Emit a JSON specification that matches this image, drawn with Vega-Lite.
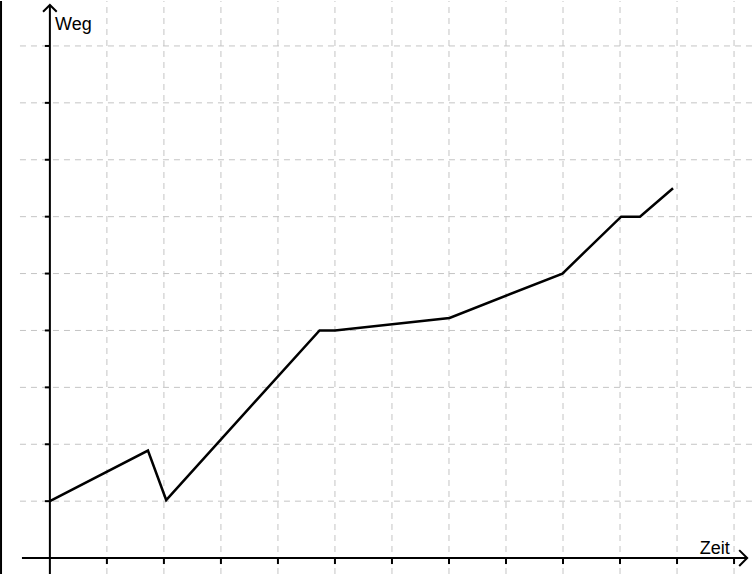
{
  "$schema": "https://vega.github.io/schema/vega-lite/v6.json",
  "autosize": {"type": "fit", "contains": "padding"},
  "width": 755,
  "height": 575,
  "padding": 0,
  "background": "white",
  "config": {"view": {"stroke": null}},
  "datasets": {
    "hgrid": [
      {"x": -0.525, "x2": 12.35, "y": 1},
      {"x": -0.525, "x2": 12.35, "y": 2},
      {"x": -0.525, "x2": 12.35, "y": 3},
      {"x": -0.525, "x2": 12.35, "y": 4},
      {"x": -0.525, "x2": 12.35, "y": 5},
      {"x": -0.525, "x2": 12.35, "y": 6},
      {"x": -0.525, "x2": 12.35, "y": 7},
      {"x": -0.525, "x2": 12.35, "y": 8},
      {"x": -0.525, "x2": 12.35, "y": 9}
    ],
    "vgrid": [
      {"x": 1, "y": -0.28, "y2": 9.79},
      {"x": 2, "y": -0.28, "y2": 9.79},
      {"x": 3, "y": -0.28, "y2": 9.79},
      {"x": 4, "y": -0.28, "y2": 9.79},
      {"x": 5, "y": -0.28, "y2": 9.79},
      {"x": 6, "y": -0.28, "y2": 9.79},
      {"x": 7, "y": -0.28, "y2": 9.79},
      {"x": 8, "y": -0.28, "y2": 9.79},
      {"x": 9, "y": -0.28, "y2": 9.79},
      {"x": 10, "y": -0.28, "y2": 9.79},
      {"x": 11, "y": -0.28, "y2": 9.79},
      {"x": 12, "y": -0.28, "y2": 9.79}
    ],
    "yticks": [
      {"x": -0.088, "x2": 0, "y": 1},
      {"x": -0.088, "x2": 0, "y": 2},
      {"x": -0.088, "x2": 0, "y": 3},
      {"x": -0.088, "x2": 0, "y": 4},
      {"x": -0.088, "x2": 0, "y": 5},
      {"x": -0.088, "x2": 0, "y": 6},
      {"x": -0.088, "x2": 0, "y": 7},
      {"x": -0.088, "x2": 0, "y": 8},
      {"x": -0.088, "x2": 0, "y": 9}
    ],
    "xticks": [
      {"x": 1, "y": -0.105, "y2": 0},
      {"x": 2, "y": -0.105, "y2": 0},
      {"x": 3, "y": -0.105, "y2": 0},
      {"x": 4, "y": -0.105, "y2": 0},
      {"x": 5, "y": -0.105, "y2": 0},
      {"x": 6, "y": -0.105, "y2": 0},
      {"x": 7, "y": -0.105, "y2": 0},
      {"x": 8, "y": -0.105, "y2": 0},
      {"x": 9, "y": -0.105, "y2": 0},
      {"x": 10, "y": -0.105, "y2": 0},
      {"x": 11, "y": -0.105, "y2": 0},
      {"x": 12, "y": -0.105, "y2": 0}
    ],
    "axes": [
      {"x": -0.49, "x2": 12.23, "y": 0, "y2": 0},
      {"x": 0, "x2": 0, "y": -0.28, "y2": 9.72},
      {"x": -0.857, "x2": -0.857, "y": -0.28, "y2": 9.79}
    ],
    "arrows": [
      {"a": "y", "o": 1, "x": -0.12, "y": 9.6},
      {"a": "y", "o": 2, "x": 0, "y": 9.72},
      {"a": "y", "o": 3, "x": 0.12, "y": 9.6},
      {"a": "x", "o": 1, "x": 12.09, "y": 0.14},
      {"a": "x", "o": 2, "x": 12.23, "y": 0},
      {"a": "x", "o": 3, "x": 12.09, "y": -0.14}
    ],
    "labels": [
      {"x": 0.09, "y": 9.28, "label": "Weg"},
      {"x": 11.4, "y": 0.07, "label": "Zeit"}
    ],
    "motion": [
      {"x": 0, "y": 1},
      {"x": 1.72, "y": 1.89},
      {"x": 2.04, "y": 1.02},
      {"x": 4.73, "y": 4},
      {"x": 5, "y": 4},
      {"x": 7.01, "y": 4.22},
      {"x": 8.99, "y": 5},
      {"x": 10.02, "y": 6},
      {"x": 10.35, "y": 6},
      {"x": 10.93, "y": 6.5}
    ]
  },
  "encoding": {
    "x": {"field": "x", "type": "quantitative", "scale": {"domain": [-0.875, 12.35], "nice": false, "zero": false}, "axis": null},
    "y": {"field": "y", "type": "quantitative", "scale": {"domain": [-0.28, 9.79], "nice": false, "zero": false}, "axis": null}
  },
  "layer": [
    {
      "data": {"name": "hgrid"},
      "mark": {"type": "rule", "color": "#c4c4c4", "strokeWidth": 1, "strokeDash": [6, 5]},
      "encoding": {"x2": {"field": "x2"}}
    },
    {
      "data": {"name": "vgrid"},
      "mark": {"type": "rule", "color": "#c4c4c4", "strokeWidth": 1, "strokeDash": [6, 5]},
      "encoding": {"y2": {"field": "y2"}}
    },
    {
      "data": {"name": "yticks"},
      "mark": {"type": "rule", "color": "black", "strokeWidth": 2},
      "encoding": {"x2": {"field": "x2"}}
    },
    {
      "data": {"name": "xticks"},
      "mark": {"type": "rule", "color": "black", "strokeWidth": 2},
      "encoding": {"y2": {"field": "y2"}}
    },
    {
      "data": {"name": "axes"},
      "mark": {"type": "rule", "color": "black", "strokeWidth": 2},
      "encoding": {"x2": {"field": "x2"}, "y2": {"field": "y2"}}
    },
    {
      "data": {"name": "arrows"},
      "mark": {"type": "line", "color": "black", "strokeWidth": 2},
      "encoding": {"detail": {"field": "a"}, "order": {"field": "o"}}
    },
    {
      "data": {"name": "motion"},
      "mark": {"type": "line", "color": "black", "strokeWidth": 2.5, "strokeJoin": "miter"},
      "encoding": {}
    },
    {
      "data": {"name": "labels"},
      "mark": {"type": "text", "align": "left", "baseline": "alphabetic", "font": "Liberation Sans", "fontSize": 18, "color": "black"},
      "encoding": {"text": {"field": "label"}}
    }
  ]
}
